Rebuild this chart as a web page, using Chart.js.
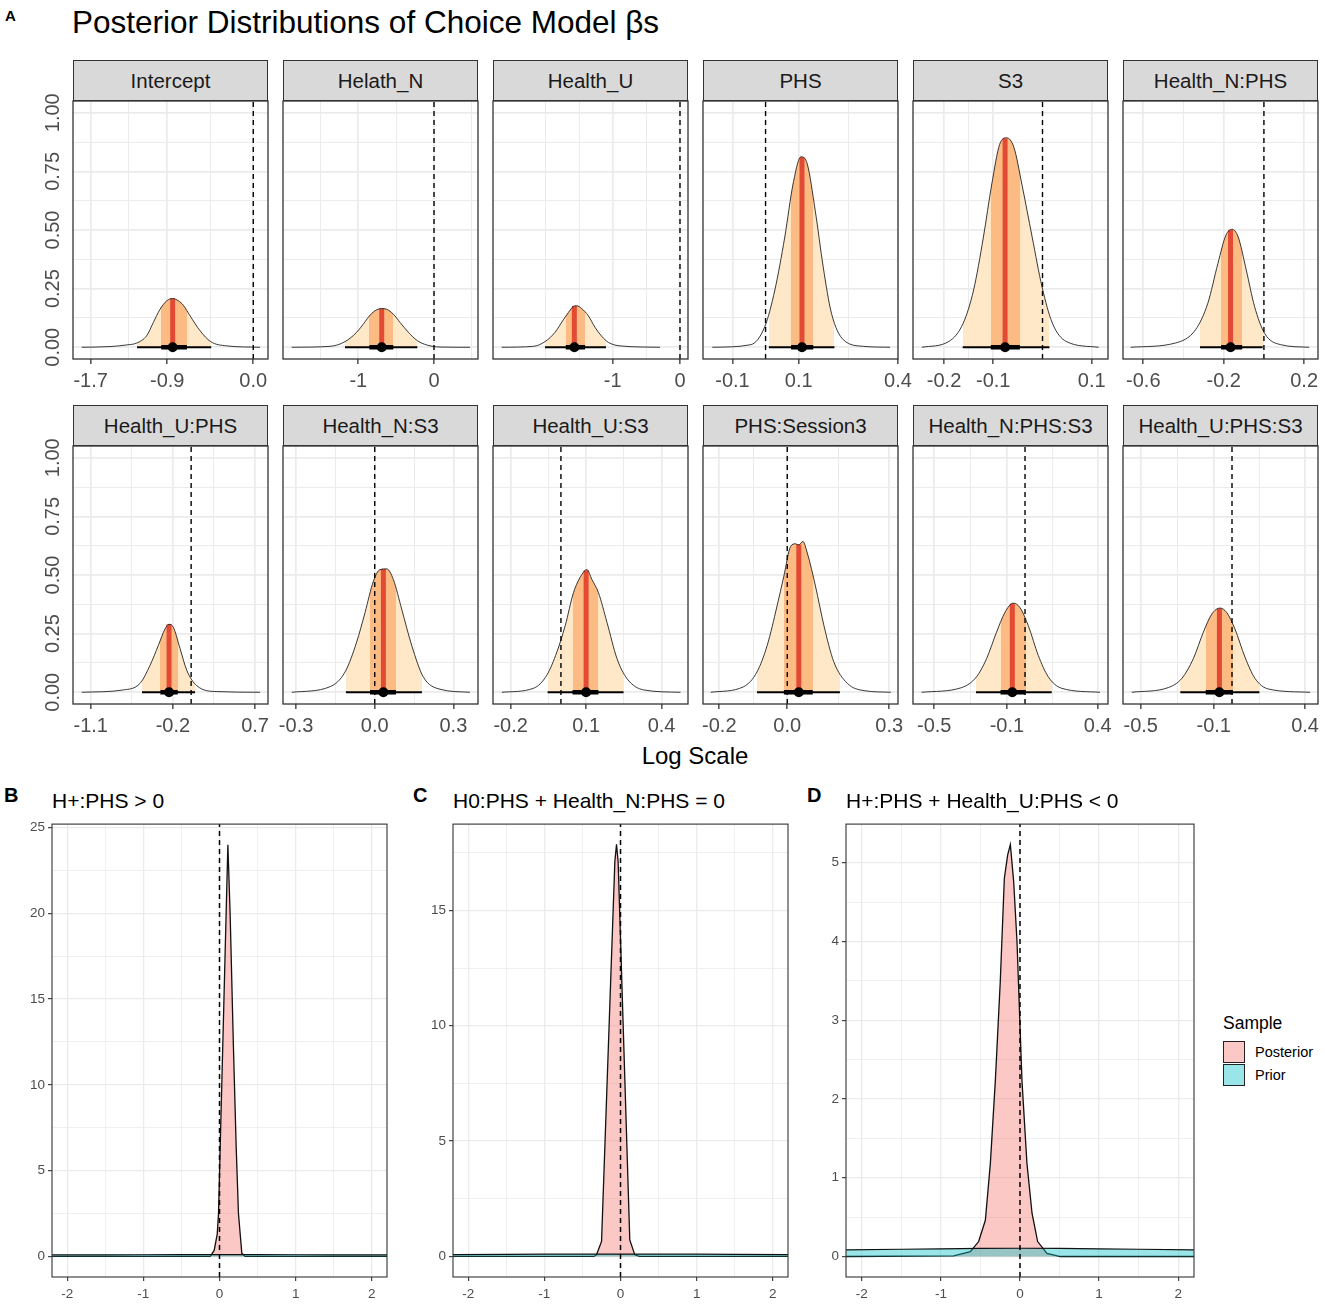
<!DOCTYPE html>
<html><head><meta charset="utf-8">
<script src="https://cdn.jsdelivr.net/npm/chart.js@4.4.1/dist/chart.umd.min.js"></script>
<style>
html,body{margin:0;padding:0;background:#fff;}
body{width:1325px;height:1304px;position:relative;overflow:hidden;font-family:"Liberation Sans",Arial,Helvetica,sans-serif;color:#000;}
.t{position:absolute;white-space:nowrap;}
canvas{position:absolute;}
.strip{position:absolute;box-sizing:border-box;background:#D9D9D9;border:1px solid #333;text-align:center;color:#1A1A1A;font-size:20.5px;}
.key{position:absolute;box-sizing:border-box;border:1.5px solid #222;}
</style></head><body>
<script>
// ---------------- DATA ----------------
const panelNames = ['Intercept','Helath_N','Health_U','PHS','S3','Health_N:PHS','Health_U:PHS','Health_N:S3','Health_U:S3','PHS:Session3','Health_N:PHS:S3','Health_U:PHS:S3'];
const xLimits = [[-1.885,0.154],[-1.995,0.581],[-2.779,0.119],[-0.189,0.4],[-0.263,0.133],[-0.701,0.269],
                 [-1.294,0.842],[-0.35,0.394],[-0.27,0.505],[-0.248,0.326],[-0.617,0.457],[-0.597,0.471]];
const xMajorTicks = [[-1.7,-0.9,0.0],[-1,0],[-1,0],[-0.1,0.1,0.4],[-0.2,-0.1,0.1],[-0.6,-0.2,0.2],
                     [-1.1,-0.2,0.7],[-0.3,0.0,0.3],[-0.2,0.1,0.4],[-0.2,0.0,0.3],[-0.5,-0.1,0.4],[-0.5,-0.1,0.4]];
const xTickLabels = [['-1.7','-0.9','0.0'],['-1','0'],['-1','0'],['-0.1','0.1','0.4'],['-0.2','-0.1','0.1'],['-0.6','-0.2','0.2'],
                     ['-1.1','-0.2','0.7'],['-0.3','0.0','0.3'],['-0.2','0.1','0.4'],['-0.2','0.0','0.3'],['-0.5','-0.1','0.4'],['-0.5','-0.1','0.4']];
const xMinorTicks = [[-1.3,-0.45],[-1.5,-0.5,0.5],[-2,-1.5,-0.5],[0.0,0.25],[-0.15,0.0],[-0.4,0.0],
                     [-0.65,0.25],[-0.15,0.15],[-0.05,0.25],[-0.1,0.15],[-0.3,0.15],[-0.3,0.15]];
const densityX = [
  [-1.794,-1.498,-1.324,-1.219,-1.115,-1.045,-0.975,-0.905,-0.843,-0.783,-0.731,-0.661,-0.557,-0.445,-0.278,0.071],
  [-1.88,-1.374,-1.176,-1.022,-0.911,-0.845,-0.757,-0.691,-0.625,-0.537,-0.449,-0.339,-0.22,-0.097,0.079,0.476],
  [-2.65,-2.179,-2.006,-1.857,-1.734,-1.659,-1.585,-1.535,-1.461,-1.362,-1.263,-1.164,-1.065,-0.892,-0.297],
  [-0.161,-0.045,-0.002,0.028,0.058,0.083,0.107,0.126,0.15,0.174,0.199,0.235,0.296,0.376],
  [-0.245,-0.19,-0.161,-0.14,-0.12,-0.103,-0.087,-0.073,-0.058,-0.042,-0.021,-0.001,0.02,0.048,0.114],
  [-0.663,-0.441,-0.34,-0.279,-0.229,-0.189,-0.158,-0.128,-0.088,-0.047,0.003,0.084,0.225],
  [-1.198,-0.742,-0.56,-0.45,-0.359,-0.286,-0.242,-0.195,-0.121,-0.048,0.062,0.281,0.755],
  [-0.316,-0.17,-0.113,-0.069,-0.037,-0.005,0.02,0.046,0.071,0.103,0.141,0.185,0.249,0.363],
  [-0.235,-0.109,-0.056,-0.016,0.017,0.05,0.083,0.103,0.123,0.149,0.183,0.223,0.262,0.329,0.475],
  [-0.225,-0.128,-0.089,-0.059,-0.03,-0.01,0.01,0.024,0.034,0.046,0.059,0.083,0.108,0.137,0.177,0.226,0.305],
  [-0.57,-0.349,-0.267,-0.212,-0.157,-0.111,-0.065,-0.028,0.018,0.073,0.128,0.202,0.413],
  [-0.549,-0.349,-0.275,-0.212,-0.157,-0.111,-0.066,-0.029,0.016,0.071,0.126,0.199,0.428]
];
const densityY = [
  [0,0.003,0.01,0.018,0.049,0.106,0.162,0.198,0.208,0.198,0.179,0.134,0.071,0.024,0.006,0],
  [0,0.004,0.024,0.064,0.109,0.137,0.16,0.165,0.162,0.141,0.106,0.064,0.028,0.01,0.001,0],
  [0,0.004,0.024,0.064,0.117,0.148,0.174,0.177,0.165,0.134,0.085,0.047,0.021,0.006,0],
  [0,0.011,0.089,0.244,0.47,0.696,0.812,0.781,0.583,0.343,0.145,0.032,0.004,0],
  [0,0.025,0.103,0.244,0.47,0.696,0.865,0.893,0.852,0.696,0.47,0.258,0.103,0.025,0],
  [0,0.018,0.075,0.188,0.357,0.478,0.503,0.47,0.33,0.175,0.06,0.011,0],
  [0,0.01,0.038,0.115,0.2,0.27,0.29,0.277,0.186,0.094,0.028,0.003,0],
  [0,0.024,0.087,0.214,0.34,0.474,0.523,0.526,0.481,0.354,0.2,0.066,0.013,0],
  [0,0.017,0.073,0.172,0.284,0.425,0.502,0.523,0.481,0.425,0.298,0.143,0.059,0.01,0],
  [0,0.024,0.087,0.2,0.368,0.495,0.622,0.633,0.628,0.643,0.594,0.453,0.284,0.13,0.038,0.007,0],
  [0,0.02,0.066,0.143,0.256,0.34,0.38,0.361,0.284,0.157,0.066,0.017,0],
  [0,0.02,0.059,0.143,0.256,0.333,0.359,0.34,0.27,0.15,0.059,0.014,0]
];
const medians = [-0.843,-0.691,-1.57,0.11,-0.076,-0.166,-0.242,0.033,0.1,0.034,-0.07,-0.069];
const medianHeights = [0.208,0.165,0.176,0.81,0.89,0.5,0.29,0.526,0.52,0.63,0.378,0.357];
const interval66 = [[-0.963,-0.694],[-0.854,-0.538],[-1.698,-1.41],[0.077,0.144],[-0.105,-0.046],[-0.213,-0.108],
                    [-0.337,-0.147],[-0.018,0.081],[0.046,0.149],[-0.01,0.075],[-0.135,0.003],[-0.144,0.005]];
const interval95 = [[-1.215,-0.44],[-1.176,-0.22],[-2.006,-1.1],[0.01,0.208],[-0.162,0.014],[-0.318,-0.006],
                    [-0.538,0.043],[-0.11,0.18],[-0.053,0.249],[-0.089,0.155],[-0.27,0.147],[-0.283,0.15]];
const referenceValue = 0;
const yLimits = [-0.05,1.05];
const yTickValues = [0,0.25,0.5,0.75,1];
const yTickLabels = ['0.00','0.25','0.50','0.75','1.00'];
const yMinorTicks = [0.125,0.375,0.625,0.875];

const mainTitle = 'Posterior Distributions of Choice Model \u03B2s';
const xAxisTitle = 'Log Scale';

const hypLetters = ['B','C','D'];
const hypTitles = ['H+:PHS > 0','H0:PHS + Health_N:PHS = 0','H+:PHS + Health_U:PHS < 0'];
const posteriorX = [
  [-2.3,-0.122,-0.07,-0.03,-0.013,0.11,0.14,0.183,0.219,0.249,0.293,0.336,2.3],
  [-2.3,-0.35,-0.315,-0.249,-0.074,-0.052,-0.031,0.122,0.188,0.25,2.3],
  [-2.3,-0.839,-0.628,-0.523,-0.438,-0.375,-0.312,-0.249,-0.198,-0.156,-0.122,-0.08,-0.038,0.025,0.088,0.152,0.223,0.341,0.51,2.3]
];
const posteriorY = [
  [0,0,0.35,1.3,2.5,24.0,19.9,12.2,6.4,2.5,0.19,0,0],
  [0,0,0.07,0.65,17.13,17.86,17.1,0.72,0.07,0,0],
  [0,0.008,0.063,0.19,0.46,1.18,2.23,3.5,4.8,5.1,5.23,4.76,4.0,2.23,1.18,0.55,0.19,0.04,0,0]
];
const priorX = [-2.3,-1.5,-1,-0.5,0,0.5,1,1.5,2.3];
const priorY = [0.083,0.092,0.098,0.103,0.105,0.103,0.098,0.092,0.083];
const hypXLimits = [-2.2,2.2];
const hypXTicks = [-2,-1,0,1,2];
const hypXMinor = [-1.5,-0.5,0.5,1.5];
const hypYLimits = [[-1.2,25.2],[-0.89,18.74],[-0.26,5.49]];
const hypYTicks = [[0,5,10,15,20,25],[0,5,10,15],[0,1,2,3,4,5]];
const hypYMinor = [[2.5,7.5,12.5,17.5,22.5],[2.5,7.5,12.5,17.5],[0.5,1.5,2.5,3.5,4.5]];
const legendTitle = 'Sample';
const legendLabels = ['Posterior','Prior'];

// ---------------- LAYOUT / STYLE ----------------
const FONT = '"Liberation Sans", Arial, Helvetica, sans-serif';
Chart.defaults.font.family = FONT;
const colLeft = [73,283,493,703,913,1123];
const panelW = 195, panelH = 258;
const rowTop = [101,446];
const stripTop = [60,405], stripH = 41;
const hypLeft = [52,453,846], hypW = [335,335,348], hypTop = 823, hypH = 454;
const C_LIGHT = '#FEE8C8', C_MED = '#FDBB84', C_RED = '#E34A33';
const C_POST = 'rgba(248,118,109,0.4)', C_PRIOR = 'rgba(0,191,196,0.4)';
const GRID = '#EBEBEB', TICKTXT = '#4D4D4D';

function addText(txt, left, cy, size, opts={}) {
  const d = document.createElement('div');
  d.className = 't';
  d.textContent = txt;
  const h = Math.round(size*1.3);
  d.style.fontSize = size+'px';
  d.style.lineHeight = h+'px';
  d.style.height = h+'px';
  d.style.top = (cy - h/2)+'px';
  if (opts.center) { d.style.left = (left-300)+'px'; d.style.width='600px'; d.style.textAlign='center'; }
  else d.style.left = left+'px';
  if (opts.bold) d.style.fontWeight = 'bold';
  if (opts.color) d.style.color = opts.color;
  document.body.appendChild(d);
  return d;
}
function placeCanvas(pl, pt, pw, ph, m) {
  const c = document.createElement('canvas');
  const w = m.l + pw + m.r, h = m.t + ph + m.b;
  c.width = w; c.height = h;
  c.style.left = (pl - m.l)+'px'; c.style.top = (pt - m.t)+'px';
  c.style.width = w+'px'; c.style.height = h+'px';
  document.body.appendChild(c);
  return c;
}
function pts(xs, ys) { return xs.map((x,i)=>({x:x, y:ys[i]})); }
function bandFill(color, lo, hi) {
  return (ctx) => {
    const chart = ctx.chart, a = chart.chartArea;
    if (!a) return color;
    const xs = chart.scales.x;
    const L = a.left, R = a.right, W = R - L;
    let f0 = (xs.getPixelForValue(lo) - L)/W, f1 = (xs.getPixelForValue(hi) - L)/W;
    f0 = Math.min(Math.max(f0,0),1); f1 = Math.min(Math.max(f1,0),1);
    const g = chart.ctx.createLinearGradient(L,0,R,0);
    const t = 'rgba(255,255,255,0)';
    g.addColorStop(0,t); g.addColorStop(f0,t); g.addColorStop(f0,color);
    g.addColorStop(f1,color); g.addColorStop(f1,t); g.addColorStop(1,t);
    return g;
  };
}
function tickSet(majors, minors) {
  return majors.map(v=>({value:v, isMinor:false})).concat(minors.map(v=>({value:v, isMinor:true})))
    .sort((a,b)=>a.value-b.value);
}
function labelFor(majors, labels) {
  return (v) => { const i = majors.findIndex(m => Math.abs(m - v) < 1e-9); return i >= 0 ? labels[i] : ''; };
}
const borderPlugin = { id:'pborder', afterDatasetsDraw(chart, args, opts) {
  const a = chart.chartArea, ctx = chart.ctx;
  ctx.save(); ctx.strokeStyle = '#333'; ctx.lineWidth = opts.width || 1.3;
  ctx.strokeRect(a.left, a.top, a.right-a.left, a.bottom-a.top); ctx.restore();
}};
const yRotLabels = { id:'yrot', afterDraw(chart, args, opts) {
  if (!opts.show) return;
  const ys = chart.scales.y, ctx = chart.ctx;
  ctx.save(); ctx.fillStyle = TICKTXT; ctx.font = '20px ' + FONT;
  ctx.textAlign = 'center'; ctx.textBaseline = 'middle';
  yTickValues.forEach((v,i) => {
    const y = ys.getPixelForValue(v);
    ctx.save(); ctx.translate(chart.chartArea.left - 21, y); ctx.rotate(-Math.PI/2);
    ctx.fillText(yTickLabels[i], 0, 1); ctx.restore();
  });
  ctx.restore();
}};

// ---------------- TEXT ----------------
addText('A', 5, 16, 15, {bold:true});
addText(mainTitle, 72, 22, 31.5);
addText(xAxisTitle, 695, 755, 24, {center:true, color:'#000'});

// ---------------- FACET PANELS ----------------
panelNames.forEach((name, p) => {
  const row = Math.floor(p/6), col = p % 6;
  const s = document.createElement('div');
  s.className = 'strip';
  s.style.left = colLeft[col]+'px'; s.style.top = stripTop[row]+'px';
  s.style.width = panelW+'px'; s.style.height = stripH+'px';
  s.style.lineHeight = (stripH-2)+'px';
  s.textContent = name;
  document.body.appendChild(s);

  const m = {l:40, t:24, r:25, b:42};
  const cv = placeCanvas(colLeft[col], rowTop[row], panelW, panelH, m);
  const dens = pts(densityX[p], densityY[p]);
  const datasets = [
    {data:[{x:medians[p], y:0}], showLine:false, pointRadius:5, pointBackgroundColor:'#000', pointBorderWidth:0, order:0},
    {data:[{x:interval66[p][0], y:0},{x:interval66[p][1], y:0}], borderColor:'#000', borderWidth:4.5, borderCapStyle:'butt', fill:false, order:1},
    {data:[{x:interval95[p][0], y:0},{x:interval95[p][1], y:0}], borderColor:'#000', borderWidth:2.2, borderCapStyle:'butt', fill:false, order:2},
    {data:[{x:referenceValue, y:yLimits[0]},{x:referenceValue, y:yLimits[1]}], borderColor:'#000', borderWidth:1.4, borderDash:[5,4], fill:false, order:3},
    {data:dens, borderColor:'#222', borderWidth:0.9, fill:false, cubicInterpolationMode:'monotone', order:4},
    {data:[{x:medians[p], y:0},{x:medians[p], y:medianHeights[p]}], borderColor:C_RED, borderWidth:5, borderCapStyle:'butt', fill:false, order:5},
    {data:dens, borderWidth:0, borderColor:'rgba(0,0,0,0)', fill:'origin', backgroundColor:bandFill(C_MED, interval66[p][0], interval66[p][1]), cubicInterpolationMode:'monotone', order:6},
    {data:dens, borderWidth:0, borderColor:'rgba(0,0,0,0)', fill:'origin', backgroundColor:bandFill(C_LIGHT, interval95[p][0], interval95[p][1]), cubicInterpolationMode:'monotone', order:7}
  ];
  const xt = tickSet(xMajorTicks[p], xMinorTicks[p]);
  const yt = tickSet(yTickValues, yMinorTicks);
  new Chart(cv, {
    type:'line',
    data:{datasets},
    options:{
      responsive:false, animation:false, events:[],
      layout:{padding:{left:0, top:m.t, right:m.r, bottom:0}},
      elements:{point:{radius:0}, line:{tension:0}},
      plugins:{legend:{display:false}, tooltip:{enabled:false}, pborder:{width:1.3}, yrot:{show: col===0}},
      scales:{
        x:{type:'linear', min:xLimits[p][0], max:xLimits[p][1],
           afterFit:(sc)=>{sc.height = m.b;},
           afterBuildTicks:(sc)=>{sc.ticks = xt.map(t=>({...t}));},
           ticks:{autoSkip:false, maxRotation:0, minRotation:0, color:TICKTXT, font:{size:20}, padding:5,
                  callback: labelFor(xMajorTicks[p], xTickLabels[p])},
           grid:{color:GRID, lineWidth:(c)=> (c.tick && c.tick.isMinor) ? 1 : 1.7,
                 tickColor:(c)=> (c.tick && c.tick.isMinor) ? 'rgba(0,0,0,0)' : '#333',
                 tickLength:5, tickWidth:1.3, drawTicks:true},
           border:{display:false}},
        y:{type:'linear', min:yLimits[0], max:yLimits[1],
           afterFit:(sc)=>{sc.width = m.l;},
           afterBuildTicks:(sc)=>{sc.ticks = yt.map(t=>({...t}));},
           ticks:{display:false},
           grid:{color:GRID, lineWidth:(c)=> (c.tick && c.tick.isMinor) ? 1 : 1.7, drawTicks:false},
           border:{display:false}}
      }
    },
    plugins:[borderPlugin, yRotLabels]
  });
});

// ---------------- HYPOTHESIS PANELS ----------------
hypTitles.forEach((title, h) => {
  const letterLeft = [4, 413, 807][h];
  addText(hypLetters[h], letterLeft, 795, 20, {bold:true});
  addText(title, hypLeft[h], 800, 21);
  const m = {l:45, t:10, r:15, b:32};
  const cv = placeCanvas(hypLeft[h], hypTop, hypW[h], hypH, m);
  const xt = tickSet(hypXTicks, hypXMinor);
  const yt = tickSet(hypYTicks[h], hypYMinor[h]);
  const datasets = [
    {data:[{x:referenceValue, y:hypYLimits[h][0]},{x:referenceValue, y:hypYLimits[h][1]}], borderColor:'#000', borderWidth:1.5, borderDash:[5,4], fill:false, order:0},
    {data:pts(priorX, priorY), borderColor:'#111', borderWidth:1.2, fill:'origin', backgroundColor:C_PRIOR, order:1},
    {data:pts(posteriorX[h], posteriorY[h]), borderColor:'#111', borderWidth:1.3, fill:'origin', backgroundColor:C_POST, order:2}
  ];
  new Chart(cv, {
    type:'line',
    data:{datasets},
    options:{
      responsive:false, animation:false, events:[],
      layout:{padding:{left:0, top:m.t, right:m.r, bottom:0}},
      elements:{point:{radius:0}, line:{tension:0}},
      plugins:{legend:{display:false}, tooltip:{enabled:false}, pborder:{width:1.1}},
      scales:{
        x:{type:'linear', min:hypXLimits[0], max:hypXLimits[1],
           afterFit:(sc)=>{sc.height = m.b;},
           afterBuildTicks:(sc)=>{sc.ticks = xt.map(t=>({...t}));},
           ticks:{autoSkip:false, maxRotation:0, minRotation:0, color:TICKTXT, font:{size:13.5}, padding:5,
                  callback: labelFor(hypXTicks, hypXTicks.map(String))},
           grid:{color:GRID, lineWidth:(c)=> (c.tick && c.tick.isMinor) ? 0.8 : 1.3,
                 tickColor:(c)=> (c.tick && c.tick.isMinor) ? 'rgba(0,0,0,0)' : '#333',
                 tickLength:4, tickWidth:1.1, drawTicks:true},
           border:{display:false}},
        y:{type:'linear', min:hypYLimits[h][0], max:hypYLimits[h][1],
           afterFit:(sc)=>{sc.width = m.l;},
           afterBuildTicks:(sc)=>{sc.ticks = yt.map(t=>({...t}));},
           ticks:{autoSkip:false, color:TICKTXT, font:{size:13.5}, padding:3,
                  callback: labelFor(hypYTicks[h], hypYTicks[h].map(String))},
           grid:{color:GRID, lineWidth:(c)=> (c.tick && c.tick.isMinor) ? 0.8 : 1.3,
                 tickColor:(c)=> (c.tick && c.tick.isMinor) ? 'rgba(0,0,0,0)' : '#333',
                 tickLength:4, tickWidth:1.1, drawTicks:true},
           border:{display:false}}
      }
    },
    plugins:[borderPlugin]
  });
});

// ---------------- LEGEND ----------------
addText(legendTitle, 1223, 1023, 17.5);
[C_POST, C_PRIOR].forEach((col, i) => {
  const k = document.createElement('div');
  k.className = 'key';
  k.style.left = '1223px'; k.style.top = (1041 + i*23)+'px';
  k.style.width = '22px'; k.style.height = '22px';
  k.style.background = col;
  document.body.appendChild(k);
  addText(legendLabels[i], 1255, 1052 + i*23, 14.5);
});
</script>
</body></html>
